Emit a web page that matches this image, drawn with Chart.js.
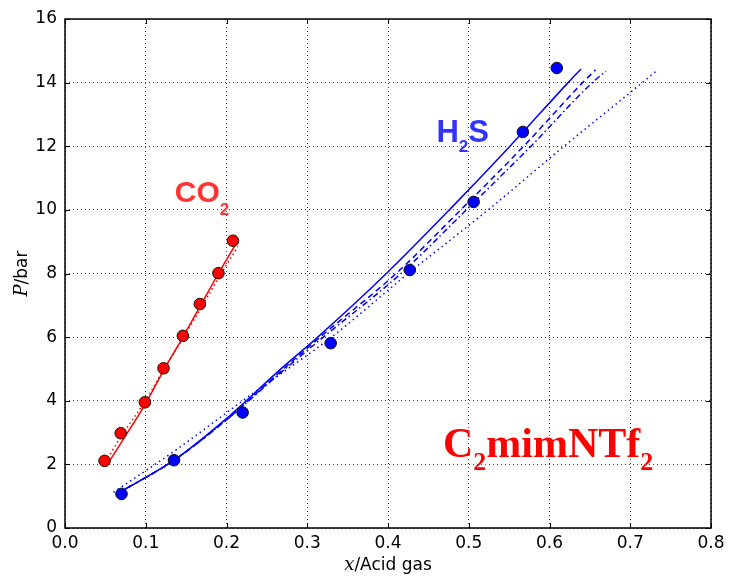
<!DOCTYPE html>
<html>
<head>
<meta charset="utf-8">
<script src="https://cdn.jsdelivr.net/npm/chart.js@4.4.1/dist/chart.umd.min.js"></script>
<style>
  html, body { margin: 0; padding: 0; background: #fff; }
</style>
</head>
<body>
<canvas id="myChart" width="731" height="577"></canvas>
<script>
// axis ticks
const xTicks = [0, 0.1, 0.2, 0.3, 0.4, 0.5, 0.6, 0.7, 0.8];
const yTicks = [0, 2, 4, 6, 8, 10, 12, 14, 16];

// CO2 measured points
const co2X = [0.049, 0.069, 0.099, 0.122, 0.146, 0.167, 0.19, 0.208];
const co2Y = [2.11, 2.98, 3.95, 5.02, 6.04, 7.04, 8.01, 9.03];
// CO2 model curves
const co2SolidX = [0.055, 0.07, 0.1, 0.122, 0.146, 0.168, 0.19, 0.212];
const co2SolidY = [2.1, 2.7, 3.92, 4.95, 6.0, 7.0, 8.0, 8.95];
const co2DotX = [0.053, 0.07, 0.1, 0.122, 0.146, 0.168, 0.19, 0.214];
const co2DotY = [2.2, 2.9, 4.02, 4.97, 5.96, 6.9, 7.85, 8.85];

// H2S measured points
const h2sX = [0.07, 0.135, 0.22, 0.329, 0.427, 0.506, 0.567, 0.609];
const h2sY = [1.07, 2.13, 3.63, 5.81, 8.11, 10.25, 12.45, 14.46];
// H2S model curves
const h2sSolidX = [0.064, 0.135, 0.198, 0.266, 0.313, 0.398, 0.476, 0.551, 0.623, 0.639];
const h2sSolidY = [1.07, 2.13, 3.4, 4.97, 6.0, 8.0, 10.0, 12.0, 14.0, 14.43];
const h2sDashX = [0.064, 0.135, 0.2, 0.266, 0.316, 0.41, 0.49, 0.568, 0.641, 0.657];
const h2sDashY = [1.07, 2.13, 3.4, 4.9, 6.0, 8.0, 10.0, 12.0, 14.0, 14.4];
const h2sDashDotX = [0.064, 0.135, 0.2, 0.268, 0.32, 0.416, 0.497, 0.577, 0.653, 0.67];
const h2sDashDotY = [1.07, 2.13, 3.4, 4.9, 6.0, 8.0, 10.0, 12.0, 14.0, 14.36];
const h2sDotX = [0.06, 0.14, 0.22, 0.33, 0.425, 0.524, 0.618, 0.703, 0.733];
const h2sDotY = [1.12, 2.5, 4.0, 6.0, 8.0, 10.0, 12.0, 13.75, 14.38];

const pts = (xs, ys) => xs.map((x, i) => ({ x: x, y: ys[i] }));

const lineSet = (xs, ys, color, dash) => ({
    data: pts(xs, ys),
    showLine: true,
    borderColor: color,
    borderWidth: 1.5,
    borderDash: dash,
    pointRadius: 0,
    cubicInterpolationMode: "monotone",
    fill: false,
    order: 1,
});

const pointSet = (xs, ys, color) => ({
    data: pts(xs, ys),
    showLine: false,
    backgroundColor: color,
    borderColor: "#111",
    borderWidth: 1,
    pointRadius: 5.8,
    order: 0,
});

// frame + inward ticks, like the matplotlib original
const framePlugin = {
    id: "frame",
    afterDatasetsDraw(chart) {
        const { ctx, chartArea: a, scales } = chart;
        ctx.save();
        ctx.strokeStyle = "#000";
        ctx.lineWidth = 1;
        ctx.beginPath();
        xTicks.forEach((v) => {
            const px = Math.round(scales.x.getPixelForValue(v)) + 0.5;
            ctx.moveTo(px, a.bottom);
            ctx.lineTo(px, a.bottom - 5);
            ctx.moveTo(px, a.top);
            ctx.lineTo(px, a.top + 5);
        });
        yTicks.forEach((v) => {
            const py = Math.round(scales.y.getPixelForValue(v)) + 0.5;
            ctx.moveTo(a.left, py);
            ctx.lineTo(a.left + 5, py);
            ctx.moveTo(a.right, py);
            ctx.lineTo(a.right - 5, py);
        });
        ctx.stroke();
        ctx.lineWidth = 1.5;
        ctx.strokeRect(a.left, a.top, a.right - a.left, a.bottom - a.top);
        ctx.restore();
    },
};

// draws a run of text pieces (for subscripts)
const drawParts = (ctx, x, y, parts) => {
    parts.forEach((p) => {
        ctx.font = p.font;
        ctx.fillText(p.t, x, y + (p.dy || 0));
        x += ctx.measureText(p.t).width;
    });
};

const labelPlugin = {
    id: "labels",
    afterDraw(chart) {
        const { ctx, chartArea: a, scales } = chart;
        const X = (v) => scales.x.getPixelForValue(v);
        const Y = (v) => scales.y.getPixelForValue(v);
        ctx.save();
        ctx.textBaseline = "alphabetic";
        ctx.textAlign = "left";

        ctx.fillStyle = "#ff3333";
        drawParts(ctx, X(0.136), Y(10.26), [
            { t: "CO", font: "bold 30px 'Liberation Sans'" },
            { t: "2", font: "bold 17px 'Liberation Sans'", dy: 13 },
        ]);

        ctx.fillStyle = "#3333ff";
        drawParts(ctx, X(0.46), Y(12.14), [
            { t: "H", font: "bold 31px 'Liberation Sans'" },
            { t: "2", font: "bold 17px 'Liberation Sans'", dy: 10 },
            { t: "S", font: "bold 31px 'Liberation Sans'" },
        ]);

        ctx.fillStyle = "#ff0000";
        drawParts(ctx, X(0.468), Y(2.23), [
            { t: "C", font: "bold 42px 'Liberation Serif'" },
            { t: "2", font: "bold 26px 'Liberation Serif'", dy: 13 },
            { t: "mimNTf", font: "bold 42px 'Liberation Serif'" },
            { t: "2", font: "bold 26px 'Liberation Serif'", dy: 13 },
        ]);

        // axis titles
        ctx.fillStyle = "#000";
        const xParts = [
            { t: "x", font: "italic 18px 'DejaVu Serif'" },
            { t: "/Acid gas", font: "17px 'DejaVu Sans'" },
        ];
        let w = 0;
        xParts.forEach((p) => { ctx.font = p.font; w += ctx.measureText(p.t).width; });
        drawParts(ctx, (a.left + a.right) / 2 - w / 2, 570, xParts);

        const yParts = [
            { t: "P", font: "italic 18px 'DejaVu Serif'" },
            { t: "/bar", font: "17px 'DejaVu Sans'" },
        ];
        w = 0;
        yParts.forEach((p) => { ctx.font = p.font; w += ctx.measureText(p.t).width; });
        ctx.translate(27, (a.top + a.bottom) / 2);
        ctx.rotate(-Math.PI / 2);
        drawParts(ctx, -w / 2, 0, yParts);
        ctx.restore();
    },
};

const tickFont = { family: "'DejaVu Sans'", size: 17 };

const ctx = document.getElementById("myChart").getContext("2d");
const chart = new Chart(ctx, {
    type: "scatter",
    data: {
        datasets: [
            pointSet(co2X, co2Y, "#ff0000"),
            pointSet(h2sX, h2sY, "#0000ff"),
            lineSet(co2SolidX, co2SolidY, "#ff0000", []),
            lineSet(co2DotX, co2DotY, "#ff0000", [1.5, 3]),
            lineSet(h2sSolidX, h2sSolidY, "#0000ff", []),
            lineSet(h2sDashX, h2sDashY, "#0000ff", [6, 4]),
            lineSet(h2sDashDotX, h2sDashDotY, "#0000ff", [6, 3, 1.5, 3]),
            lineSet(h2sDotX, h2sDotY, "#0000ff", [1.5, 3.5]),
        ],
    },
    options: {
        responsive: false,
        animation: false,
        layout: { padding: { top: 19, right: 20, left: 0, bottom: 0 } },
        plugins: {
            legend: { display: false },
            tooltip: { enabled: false },
        },
        scales: {
            x: {
                type: "linear",
                min: 0,
                max: 0.8,
                afterFit: (s) => { s.height = 49; },
                afterBuildTicks: (s) => { s.ticks = xTicks.map((v) => ({ value: v })); },
                ticks: {
                    color: "#000",
                    font: tickFont,
                    padding: 5,
                    maxRotation: 0,
                    callback: (v) => v.toFixed(1),
                },
                grid: { color: "rgba(0,0,0,0.75)", lineWidth: 1, drawTicks: false },
                border: { display: false, dash: [1, 3] },
            },
            y: {
                type: "linear",
                min: 0,
                max: 16,
                afterFit: (s) => { s.width = 65; },
                afterBuildTicks: (s) => { s.ticks = yTicks.map((v) => ({ value: v })); },
                ticks: {
                    color: "#000",
                    font: tickFont,
                    padding: 8,
                    callback: (v) => String(v),
                },
                grid: { color: "rgba(0,0,0,0.75)", lineWidth: 1, drawTicks: false },
                border: { display: false, dash: [1, 3] },
            },
        },
    },
    plugins: [framePlugin, labelPlugin],
});
</script>
</body>
</html>
